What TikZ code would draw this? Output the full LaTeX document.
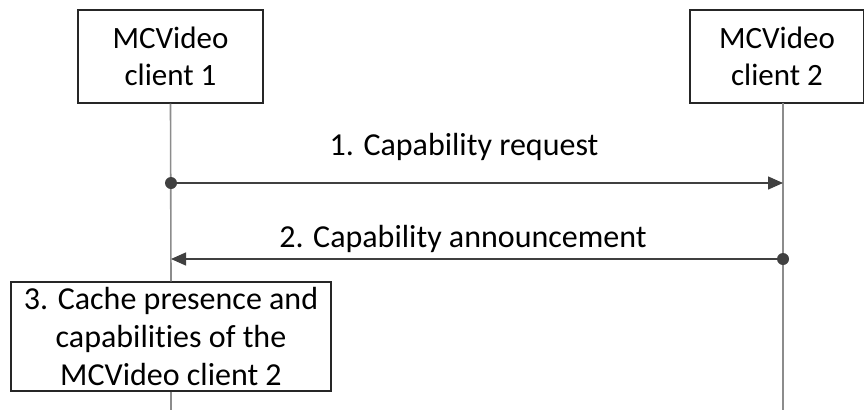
\documentclass[tikz,border=0pt]{standalone}
\usepackage{fontspec}
\setmainfont[Ligatures=NoCommon]{Carlito}
\usetikzlibrary{arrows.meta}
\begin{document}
\begin{tikzpicture}[x=1pt,y=-1pt,
  ent/.style={draw=black!85,line width=1.2pt,minimum width=185pt,minimum height=93pt,align=center,font=\fontsize{31}{37.5}\selectfont},
  life/.style={draw=black!45,line width=1.6pt},
  msg/.style={draw=black!75,line width=1.4pt,-{Triangle[length=15pt,width=13pt]}},
  lbl/.style={font=\fontsize{32}{36}\selectfont,inner sep=0pt,anchor=base},
  dotst/.style={circle,fill=black!75,inner sep=0pt,minimum size=12pt}]
\useasboundingbox (0,0) rectangle (864,410);
\node[ent] (c1) at (170.5,56.5) {MCVideo\\client 1};
\node[ent,minimum width=174pt] (c2) at (777,56.5) {MCVideo\\client 2};
\node[ent,minimum width=320pt,minimum height=109pt,font=\fontsize{32}{37.5}\selectfont] (s3) at (171,336.5) {3. Cache presence and\\capabilities of the\\MCVideo client 2};
\coordinate (l1b) at (171,410);
\coordinate (l2b) at (783,410);
\coordinate (l2t) at (783,103);
\draw[life] (c1.south) -- (s3.north);
\draw[life] (s3.south) -- (l1b);
\draw[life] (l2t) -- (l2b);
\node[dotst] (d1) at (171,183) {};
\coordinate (e1) at (783,183);
\draw[msg] (d1.center) -- (e1);
\node[lbl] (t1) at (464,155) {1. Capability request};
\node[dotst] (d2) at (783,259) {};
\coordinate (e2) at (171,259);
\draw[msg] (d2.center) -- (e2);
\node[lbl] (t2) at (463,247) {2. Capability announcement};
\end{tikzpicture}
\end{document}
